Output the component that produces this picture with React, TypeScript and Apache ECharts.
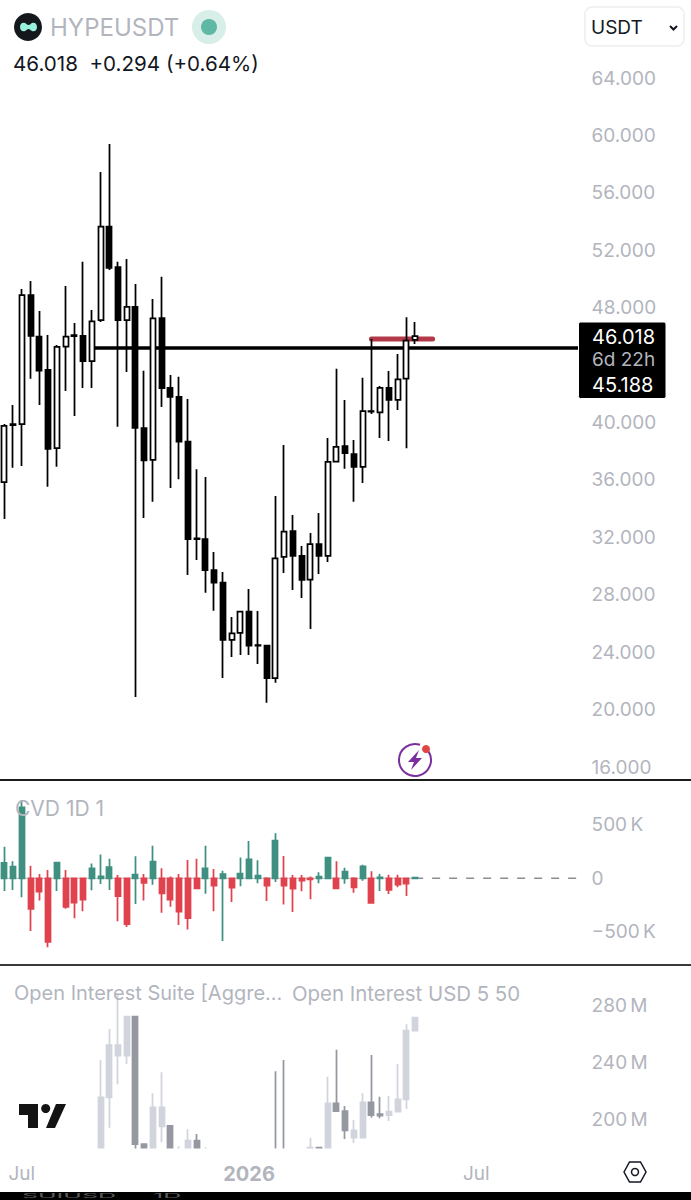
import React, { useEffect, useRef } from "react";
import * as echarts from "echarts";

const FONT = "Inter, 'Noto Sans', sans-serif";
const GREY = "#b2b5be";

const slotCount = 67;
const tickLabels: Record<number, string> = { 2: "Jul", 28: "2026", 54: "Jul" };
const categories = Array.from({ length: slotCount }, (_, i) => tickLabels[i] ?? "");

// Price panel (weekly candles)
const priceOpen = [35.85,39.82,39.89,48.88,45.98,43.66,38.22,45.28,46.02,46.03,44.28,47.14,53.64,50.83,47.14,48.05,39.60,37.39,47.28,42.42,41.78,38.66,31.92,31.88,29.72,28.84,24.85,25.35,26.82,24.49,24.45,22.20,30.63,32.44,30.70,29.05,31.53,30.70,37.27,38.36,37.80,36.90,40.76,40.71,42.42,41.57,43.05,45.75];
const priceClose = [39.76,39.88,48.88,46.03,43.61,38.17,45.26,45.98,46.08,44.28,47.05,53.64,50.78,47.14,48.05,39.62,37.37,47.26,42.40,41.78,38.66,31.88,31.88,29.72,28.84,24.85,25.31,26.82,24.45,24.45,22.20,30.54,32.39,30.70,29.03,31.53,30.70,37.25,38.31,37.87,36.90,40.80,40.80,42.42,41.57,43.01,45.70,46.018];
const priceLow = [33.28,36.85,36.97,43.05,41.22,35.53,36.92,42.19,40.45,42.40,42.40,47.00,50.62,39.71,43.52,20.87,33.35,34.48,41.08,35.44,36.04,29.37,30.42,28.14,26.89,22.20,23.66,23.80,23.80,23.17,20.48,21.87,29.51,28.33,27.77,25.61,29.44,30.28,37.27,36.78,34.48,35.78,40.59,38.92,38.71,40.87,38.20,45.47];
const priceHigh = [39.89,41.22,49.30,49.86,47.77,46.09,45.40,49.51,46.93,51.20,47.84,57.45,59.40,51.20,51.39,49.65,43.61,48.60,50.16,43.31,43.19,41.64,36.74,36.20,30.98,29.58,26.45,26.82,28.40,26.87,24.50,34.88,38.43,33.55,31.39,32.30,33.69,38.92,43.75,41.57,38.78,43.12,45.82,42.54,43.59,44.77,47.33,47.00];
const priceTicks = { min: 16, max: 64, step: 4, hidden: 44 };
const supportLevel = 45.188;
const supportFrom = 10;
const resistanceLevel = 45.81;
const resistanceFrom = 42;
const resistanceTo = 49;

// CVD panel
const cvdClose = [143,109,662,-286,-124,-593,146,-267,-227,-199,93,19,103,-165,-426,34,-43,155,-140,-199,-311,-370,-93,93,-68,40,-87,43,177,25,-68,351,-68,-96,-22,-9,16,193,-93,62,-84,112,-230,9,-109,-59,-50,6];
const cvdLow = [-118,-109,-177,-491,-208,-643,-118,-283,-373,-308,-112,-53,-109,-401,-454,-239,-208,-59,-320,-264,-435,-478,-93,-143,-308,-584,-221,-75,0,-47,-211,-34,-245,-314,-121,-196,-47,0,-93,-50,-134,-22,-230,-118,-146,-84,-165,-3];
const cvdHigh = [295,158,730,118,40,78,146,78,0,0,137,221,183,31,0,205,40,304,93,16,40,171,183,304,87,71,0,193,348,168,9,419,208,31,31,16,56,202,158,99,9,127,65,40,34,34,6,9];
const cvdTicks = { min: -1000, max: 1000, step: 500 };

// Open interest panel, in millions; the panel cuts off everything under its floor
const oiFloor = 180.35;
const oiCeil = 308.07;
const oiTickValues = [200, 240, 280];
type Oi = number | null;
const oiOpen: Oi[] = [null,null,null,null,null,null,null,null,null,null,null,175,215.93,245.12,245.12,272.5,183.15,176,195.57,195.8,176,176,185.47,176,null,null,null,null,null,null,null,178,178,null,null,176,180.6,178,211.71,206.31,187.57,187.57,212.42,204.2,203.5,205.82,214.52,262.67];
const oiClose: Oi[] = [null,null,null,null,null,null,null,null,null,null,null,215.93,252.63,252.63,272.5,183.15,176,208.91,208.91,176,178,185.47,176,178,null,null,null,null,null,null,null,176,176,null,null,180.6,176,211.71,206.31,192.76,192.76,212.42,203.5,203.01,205.82,214.52,262.67,271.79];
const oiLow: Oi[] = [null,null,null,null,null,null,null,null,null,null,null,175,194.59,225.05,239.3,178,176,176,184.34,176,176,176,176,176,null,null,null,null,null,null,null,176,176,null,null,176,176,178,206.31,186.66,183.85,187.57,201.61,201.19,199.3,205.82,207.71,262.67];
const oiHigh: Oi[] = [null,null,null,null,null,null,null,null,null,null,null,242.1,263.86,287.72,272.5,272.5,183.15,218.73,233.47,196.5,181.5,193.47,190.17,180.8,null,null,null,null,null,null,null,234.17,242.1,null,null,187.57,180.8,230.38,249.33,209.82,200,218.73,245.61,216.35,216.84,239.3,267.16,271.79];

const priceCandles = priceOpen.map((o, i) => [o, priceClose[i], priceLow[i], priceHigh[i]]);
const cvdCandles = cvdClose.map((c, i) => [0, c, cvdLow[i], cvdHigh[i]]);
const oiCandles = oiOpen.map((o, i) =>
  o === null ? ["-", "-", "-", "-"] : [o, oiClose[i], oiLow[i], oiHigh[i]]
);
const segment = (value: number, from: number, to: number) =>
  categories.map((_, i) => (i >= from && i <= to ? value : null));

const GRID_W = 585.58;
const hypeLogo =
  "M20 27 C20 23 23 22 25 23 C27 24 27 25 28.5 25 C30 25 30 24 32 23 C34 22 37 23 37 27 C37 31 34 32 32 31 C30 30 30 29 28.5 29 C27 29 27 30 25 31 C23 32 20 31 20 27Z";

export default function App() {
  const ref = useRef<HTMLDivElement>(null);
  useEffect(() => {
    document.body.style.margin = "0";
    document.body.style.background = "#fff";
    echarts.graphic.registerShape("hypeLogo", echarts.graphic.extendPath(hypeLogo, {}) as any);
    const chart = echarts.init(ref.current!, undefined, { renderer: "svg" });

    const text = (x: number, y: number, t: string, size: number, fill: string, extra: any = {}) => ({
      type: "text",
      x,
      y,
      z: 20,
      style: { text: t, fontSize: size, fill, fontFamily: FONT, verticalAlign: "middle", ...extra },
    });
    const hiddenX = (gridIndex: number) => ({
      type: "category",
      gridIndex,
      data: categories,
      axisLine: { show: false },
      axisTick: { show: false },
      axisLabel: { show: false },
      splitLine: { show: false },
    });
    const yLabel = (formatter: any, extra: any = {}) => ({
      color: GREY,
      fontFamily: FONT,
      fontSize: 19,
      margin: 6,
      align: "left",
      formatter,
      ...extra,
    });
    const yBase = (gridIndex: number) => ({
      type: "value",
      gridIndex,
      position: "right",
      axisLine: { show: false },
      axisTick: { show: false },
      splitLine: { show: false },
    });

    chart.setOption({
      animation: false,
      backgroundColor: "#ffffff",
      grid: [
        { left: 0, width: GRID_W, top: 78, height: 689 },
        { left: 0, width: GRID_W, top: 771, height: 214.6 },
        { left: 0, width: GRID_W, top: 966, height: 182 },
      ],
      xAxis: [
        hiddenX(0),
        hiddenX(1),
        {
          ...hiddenX(2),
          axisLabel: {
            show: true,
            interval: 0,
            hideOverlap: false,
            margin: 16,
            color: GREY,
            fontFamily: FONT,
            fontSize: 19,
            formatter: (v: string) => (v === "2026" ? "{b|2026}" : v),
            rich: { b: { fontWeight: 700, fontSize: 20, color: GREY, fontFamily: FONT } },
          },
        },
      ],
      yAxis: [
        {
          ...yBase(0),
          min: priceTicks.min,
          max: priceTicks.max,
          interval: priceTicks.step,
          axisLabel: yLabel((v: number) => (v === priceTicks.hidden ? "" : v.toFixed(3))),
        },
        {
          ...yBase(1),
          min: cvdTicks.min,
          max: cvdTicks.max,
          interval: cvdTicks.step,
          axisLabel: yLabel((v: number) =>
            Math.abs(v) >= 1000 ? "" : v === 0 ? "0" : (v < 0 ? "\u2212" : "") + Math.abs(v) + "\u2009K"
          ),
        },
        {
          ...yBase(2),
          min: oiFloor,
          max: oiCeil,
          axisLabel: yLabel((v: number) => v + "\u2009M", { customValues: oiTickValues }),
        },
      ],
      series: [
        {
          type: "line",
          z: 1,
          xAxisIndex: 0,
          yAxisIndex: 0,
          data: segment(supportLevel, supportFrom, slotCount - 1),
          showSymbol: false,
          lineStyle: { color: "#000", width: 3.5 },
        },
        {
          type: "line",
          z: 1,
          xAxisIndex: 0,
          yAxisIndex: 0,
          data: segment(resistanceLevel, resistanceFrom, resistanceTo),
          showSymbol: false,
          lineStyle: { color: "#b23a48", width: 5, cap: "round" },
        },
        {
          type: "candlestick",
          z: 3,
          xAxisIndex: 0,
          yAxisIndex: 0,
          barWidth: 5.5,
          data: priceCandles,
          itemStyle: {
            color: "#ffffff",
            color0: "#000000",
            borderColor: "#000000",
            borderColor0: "#000000",
            borderColorDoji: "#000000",
            borderWidth: 1.75,
          },
        },
        {
          type: "line",
          z: 1,
          xAxisIndex: 1,
          yAxisIndex: 1,
          data: segment(0, 0, 47),
          showSymbol: false,
          lineStyle: { color: "#b8bbc2", width: 1 },
        },
        {
          type: "line",
          z: 1,
          xAxisIndex: 1,
          yAxisIndex: 1,
          data: segment(0, 47, slotCount - 1),
          showSymbol: false,
          lineStyle: { color: "#8a8d94", width: 1.5, type: [8, 9] },
        },
        {
          type: "candlestick",
          z: 3,
          xAxisIndex: 1,
          yAxisIndex: 1,
          barWidth: 5.5,
          data: cvdCandles,
          itemStyle: {
            color: "#3f9080",
            color0: "#e0424e",
            borderColor: "#3f9080",
            borderColor0: "#e0424e",
            borderWidth: 1.75,
          },
        },
        {
          type: "candlestick",
          z: 3,
          xAxisIndex: 2,
          yAxisIndex: 2,
          barWidth: 5.5,
          data: oiCandles,
          itemStyle: {
            color: "#d1d4dc",
            color0: "#9598a1",
            borderColor: "#d1d4dc",
            borderColor0: "#9598a1",
            borderWidth: 1.75,
          },
        },
      ],
      graphic: [
        // the open interest pane ends here: bars run on under this strip
        { type: "rect", z: 9, shape: { x: 0, y: 1148.5, width: 585, height: 11 }, style: { fill: "#fff" } },

        // separators and the page edge
        { type: "rect", z: 10, shape: { x: 0, y: 779, width: 691, height: 2 }, style: { fill: "#1c1c1c" } },
        { type: "rect", z: 10, shape: { x: 0, y: 964, width: 691, height: 2 }, style: { fill: "#3a3a3a" } },
        { type: "rect", z: 10, shape: { x: 0, y: 1192, width: 691, height: 8 }, style: { fill: "#000" } },
        { type: "text", z: 11, x: 22, y: 1192.5, scaleY: 0.27, style: { text: "SUIUSD", fontSize: 25, fill: "#5a5a5a", fontFamily: FONT, verticalAlign: "top" } },
        { type: "text", z: 11, x: 153, y: 1192.5, scaleY: 0.27, style: { text: "1D", fontSize: 25, fill: "#5a5a5a", fontFamily: FONT, verticalAlign: "top" } },

        // header
        { type: "circle", z: 20, shape: { cx: 28, cy: 27, r: 14 }, style: { fill: "#14181c" } },
        { type: "hypeLogo", z: 21, x: 0, y: 0, style: { fill: "#97f1dc" } },
        text(50, 27, "HYPEUSDT", 24, GREY),
        { type: "circle", z: 20, shape: { cx: 209, cy: 27, r: 17 }, style: { fill: "#d7eee9" } },
        { type: "circle", z: 21, shape: { cx: 209, cy: 27, r: 8 }, style: { fill: "#5fb8a4" } },
        text(13, 63, "46.018  +0.294 (+0.64%)", 20.6, "#131722"),

        // unit selector
        { type: "rect", z: 20, shape: { x: 585, y: 7, width: 99, height: 39, r: 7 }, style: { fill: "#fff", stroke: "#eeeeee", lineWidth: 1.5 } },
        text(591, 27, "USDT", 19, "#131722"),
        { type: "polyline", z: 21, shape: { points: [[670, 26], [673.5, 29.5], [677, 26]] }, style: { stroke: "#131722", lineWidth: 2, fill: "none" } },

        // last price tag
        { type: "rect", z: 20, shape: { x: 578.5, y: 322, width: 87.5, height: 76.5, r: 2 }, style: { fill: "#000", stroke: "#fff", lineWidth: 1 } },
        text(592, 337, "46.018", 20, "#ffffff"),
        text(592, 359, "6d 22h", 19, GREY),
        text(592, 385, "45.188", 20, "#ffffff"),

        // panel titles
        text(15, 808, "CVD 1D 1", 21, GREY),
        text(14, 993, "Open Interest Suite [Aggre...", 20, GREY),
        text(292, 993, "Open Interest USD 5 50", 20.4, GREY),

        // lightning badge
        { type: "arc", z: 20, shape: { cx: 415, cy: 760, r: 16, startAngle: -0.55, endAngle: -1.25, clockwise: true }, style: { stroke: "#7b2f9e", lineWidth: 2, fill: "none" } },
        { type: "polygon", z: 21, shape: { points: [[419, 750], [408, 762], [414, 762], [411, 770], [422, 758], [416, 758]] }, style: { fill: "#7b2f9e" } },
        { type: "circle", z: 21, shape: { cx: 426, cy: 749, r: 4 }, style: { fill: "#e04444" } },

        // TradingView mark
        { type: "polygon", z: 20, shape: { points: [[19, 1104], [38, 1104], [38, 1128], [28, 1128], [28, 1115], [19, 1115]] }, style: { fill: "#131313" } },
        { type: "circle", z: 20, shape: { cx: 45.7, cy: 1108.5, r: 4.5 }, style: { fill: "#131313" } },
        { type: "polygon", z: 20, shape: { points: [[56, 1104], [66, 1104], [55, 1128], [46, 1128]] }, style: { fill: "#131313" } },

        // settings hexagon
        { type: "polygon", z: 20, shape: { points: [[624, 1172], [629.5, 1162], [640.5, 1162], [646, 1172], [640.5, 1182], [629.5, 1182]] }, style: { fill: "none", stroke: "#131722", lineWidth: 1.5 } },
        { type: "circle", z: 20, shape: { cx: 635, cy: 1172, r: 3.5 }, style: { fill: "none", stroke: "#131722", lineWidth: 1.5 } },
      ],
    });
    return () => chart.dispose();
  }, []);
  return <div ref={ref} style={{ position: "absolute", left: 0, top: 0, width: 691, height: 1200, overflow: "hidden" }} />;
}
